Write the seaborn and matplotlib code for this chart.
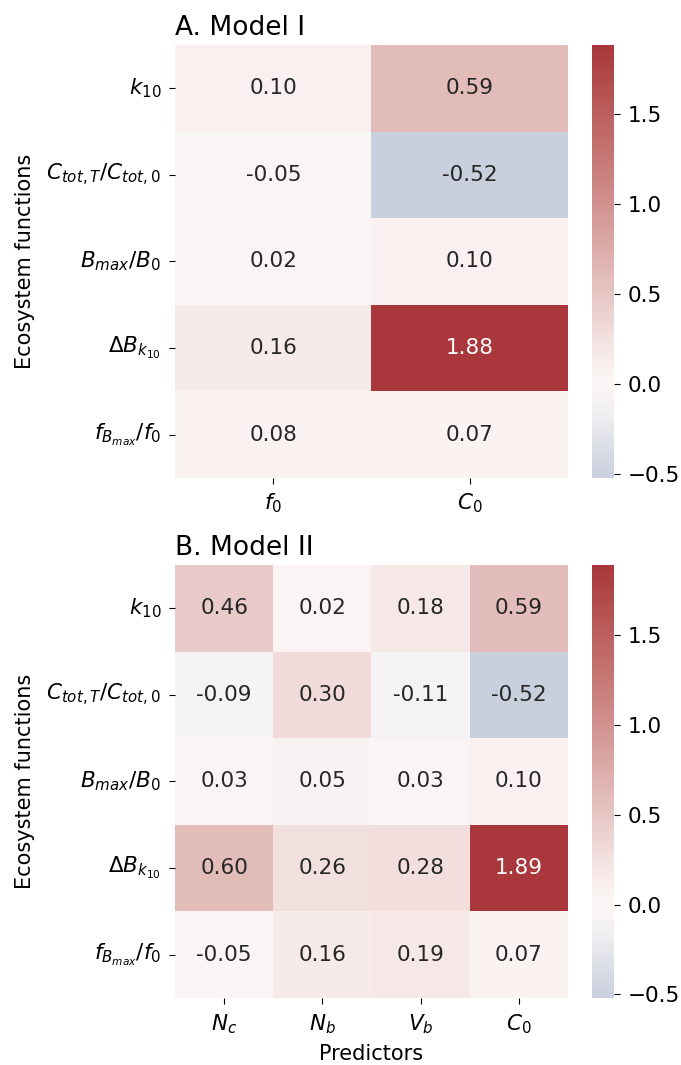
import numpy as np
import pandas as pd
import matplotlib
matplotlib.use('Agg')
import matplotlib.pyplot as plt
import seaborn as sns

# Row labels (ecosystem functions)
functions = [r'$k_{10}$', r'$C_{tot,T}/C_{tot,0}$', r'$B_{max}/B_0$',
             r'$\Delta B_{k_{10}}$', r'$f_{B_{max}}/f_0$']

# Model I predictors and effects
predictors_1 = [r'$f_0$', r'$C_0$']
f0_1 = [0.10, -0.05, 0.02, 0.16, 0.08]
C0_1 = [0.59, -0.52, 0.10, 1.88, 0.07]

# Model II predictors and effects
predictors_2 = [r'$N_c$', r'$N_b$', r'$V_b$', r'$C_0$']
Nc_2 = [0.46, -0.09, 0.03, 0.60, -0.05]
Nb_2 = [0.02, 0.30, 0.05, 0.26, 0.16]
Vb_2 = [0.18, -0.11, 0.03, 0.28, 0.19]
C0_2 = [0.59, -0.52, 0.10, 1.89, 0.07]

df1 = pd.DataFrame(np.column_stack([f0_1, C0_1]), index=functions, columns=predictors_1)
df2 = pd.DataFrame(np.column_stack([Nc_2, Nb_2, Vb_2, C0_2]), index=functions, columns=predictors_2)

plt.rcParams['font.family'] = ['DejaVu Sans']
fig = plt.figure(figsize=(6.81, 10.65), dpi=100)

ax1 = fig.add_axes([0.257, 0.5512, 0.577, 0.4066])
cax1 = fig.add_axes([0.869, 0.5512, 0.032, 0.4066])
ax2 = fig.add_axes([0.257, 0.0629, 0.577, 0.4066])
cax2 = fig.add_axes([0.869, 0.0629, 0.032, 0.4066])

for ax, cax, df, title in [(ax1, cax1, df1, 'A. Model I'), (ax2, cax2, df2, 'B. Model II')]:
    sns.heatmap(df, cmap='vlag', center=0, annot=True, fmt='.2f',
                annot_kws={'fontsize': 15.5}, ax=ax, cbar_ax=cax)
    ax.set_title(title, loc='left', fontsize=19, pad=7)
    ax.set_ylabel('Ecosystem functions', fontsize=15, labelpad=8)
    ax.tick_params(axis='both', labelsize=15.5, length=4, pad=6)
    plt.setp(ax.get_yticklabels(), rotation=0)
    plt.setp(ax.get_xticklabels(), rotation=0)
    cax.tick_params(labelsize=15.5, length=4, pad=6)

ax1.set_xlabel('')
ax2.set_xlabel('Predictors', fontsize=15, labelpad=6)

fig.savefig('out.png', dpi=100)
plt.close('all')
